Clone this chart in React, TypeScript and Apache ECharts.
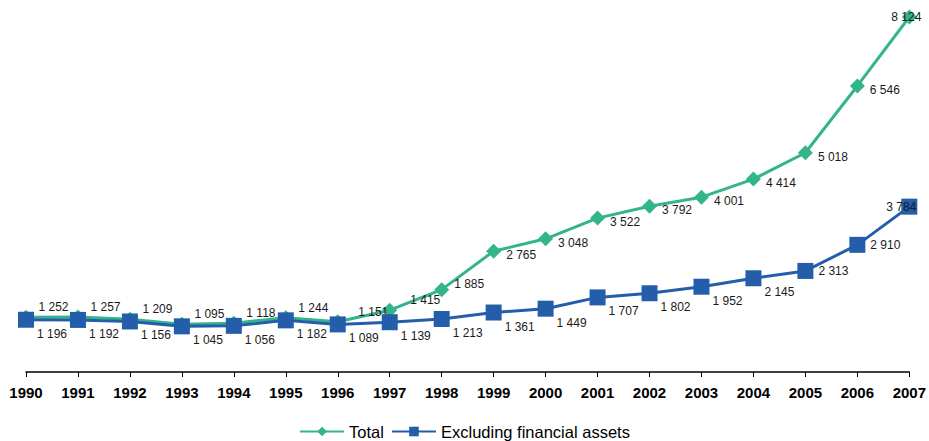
import React, { useEffect, useRef } from "react";
import * as echarts from "echarts";

const years = ["1990","1991","1992","1993","1994","1995","1996","1997","1998","1999","2000","2001","2002","2003","2004","2005","2006","2007"];
const totalValues = [1252,1257,1209,1095,1118,1244,1151,1415,1885,2765,3048,3522,3792,4001,4414,5018,6546,8124];
const exclValues = [1196,1192,1156,1045,1056,1182,1089,1139,1213,1361,1449,1707,1802,1952,2145,2313,2910,3784];

const fmt = (v: number) => {
  const s = String(Math.round(v));
  return s.replace(/\B(?=(\d{3})+(?!\d))/g, " ");
};

export default function App() {
  const ref = useRef<HTMLDivElement>(null);
  useEffect(() => {
    if (!ref.current) return;
    const chart = echarts.init(ref.current, null, { renderer: "svg" });
    const font = "'Liberation Sans', Arial, sans-serif";
    const n = years.length;
    const totalData = totalValues.map((v, i) => {
      let label: any;
      if (i === n - 1) label = { position: "inside", offset: [-3, 0] };
      else if (i <= 5) label = { position: "right", offset: [0, -10] };
      else if (i <= 7) label = { position: "right", offset: [8, -10] };
      else if (i === 8) label = { position: "right", offset: [0, -6] };
      else label = { position: "right", offset: [0, 4] };
      return { value: v, label };
    });
    const exclData = exclValues.map((v, i) => {
      let label: any;
      if (i === n - 1) label = { position: "inside", offset: [-8, 0] };
      else if (i <= 14) label = { position: "right", offset: [-2, 14] };
      else label = { position: "right", offset: [0, 0] };
      return { value: v, label };
    });
    const labelBase = {
      show: true,
      color: "#1a1a1a",
      fontSize: 12,
      fontFamily: font,
      formatter: (p: any) => fmt(p.value),
    };
    chart.setOption({
      animation: false,
      grid: { left: 26, right: 18, top: 17, bottom: 69, containLabel: false },
      legend: {
        top: 423,
        left: "center",
        padding: 0,
        itemWidth: 44,
        itemHeight: 12,
        itemGap: 7,
        textStyle: { fontSize: 16.5, color: "#000", fontFamily: font },
        data: ["Total", "Excluding financial assets"],
      },
      xAxis: {
        type: "category",
        data: years,
        boundaryGap: false,
        axisLine: { lineStyle: { color: "#000", width: 1.5 } },
        axisTick: { show: true, length: 5, inside: false, lineStyle: { color: "#000", width: 1 } },
        axisLabel: { color: "#000", fontSize: 15, fontWeight: "bold", fontFamily: font, margin: 13, interval: 0 },
        splitLine: { show: false },
      },
      yAxis: {
        type: "value",
        min: 0,
        max: 8124,
        show: false,
        splitLine: { show: false },
      },
      series: [
        {
          name: "Total",
          type: "line",
          data: totalData,
          symbol: "diamond",
          symbolSize: 15,
          lineStyle: { color: "#33B48A", width: 3 },
          itemStyle: { color: "#33B48A" },
          label: labelBase,
          z: 2,
        },
        {
          name: "Excluding financial assets",
          type: "line",
          data: exclData,
          symbol: "rect",
          symbolSize: 16,
          lineStyle: { color: "#245DAA", width: 3 },
          itemStyle: { color: "#245DAA" },
          label: labelBase,
          z: 3,
        },
      ],
    });
    return () => chart.dispose();
  }, []);
  return <div ref={ref} style={{ width: 929, height: 441, position: "absolute", left: 0, top: 0 }} />;
}
